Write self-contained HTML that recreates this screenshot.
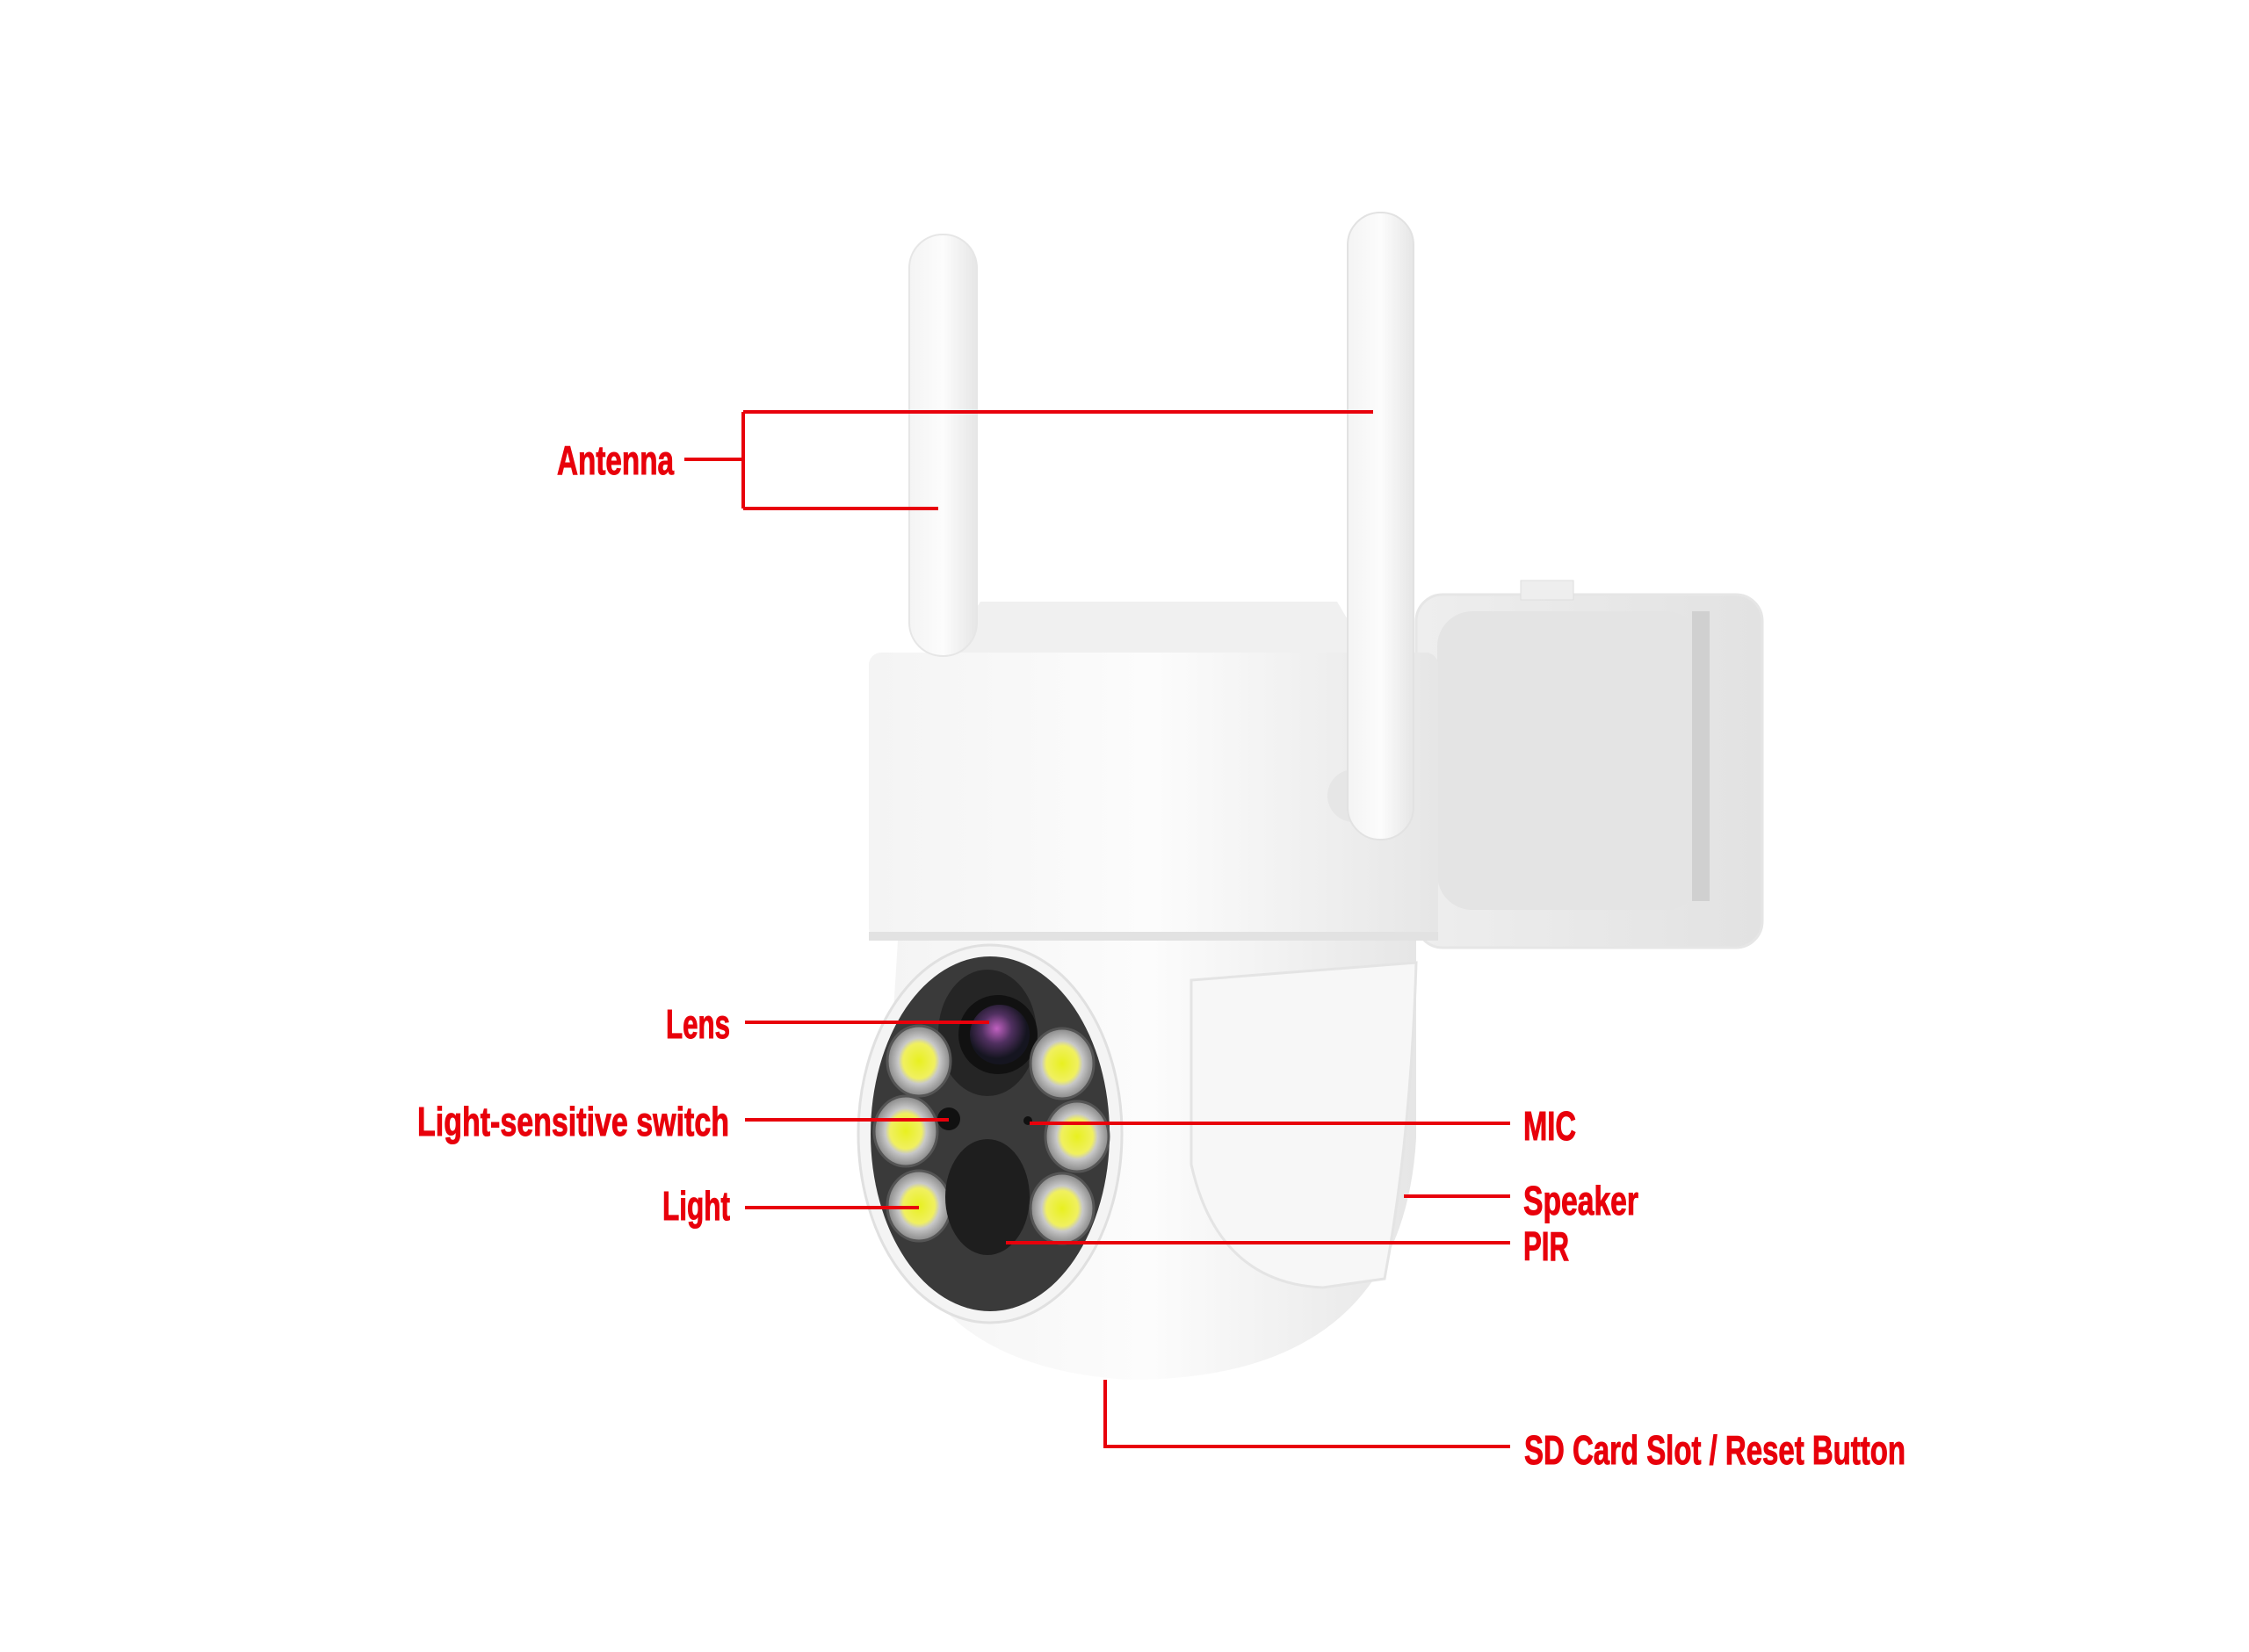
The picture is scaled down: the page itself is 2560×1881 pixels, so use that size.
<!DOCTYPE html>
<html><head><meta charset="utf-8"><style>
html,body{margin:0;padding:0;background:#fff;width:2560px;height:1881px;overflow:hidden}
svg{display:block}
.t{font-family:"Liberation Sans Narrow","Liberation Sans",sans-serif;font-weight:bold;font-size:46px;fill:#e8000b;stroke:#e8000b;stroke-width:1}
</style></head><body>
<svg width="2560" height="1881" viewBox="0 0 2560 1881" xmlns="http://www.w3.org/2000/svg">
<defs>
<linearGradient id="w" x1="0" x2="1"><stop offset="0" stop-color="#f4f4f4"/><stop offset=".5" stop-color="#fcfcfc"/><stop offset="1" stop-color="#e6e6e6"/></linearGradient>
<linearGradient id="g" x1="0" x2="1"><stop offset="0" stop-color="#eeeeee"/><stop offset="1" stop-color="#e2e2e2"/></linearGradient>
<radialGradient id="led"><stop offset="0" stop-color="#e8f020"/><stop offset=".5" stop-color="#f0f060"/><stop offset=".65" stop-color="#c8c8c8"/><stop offset="1" stop-color="#888"/></radialGradient>
<radialGradient id="lens" cx=".45" cy=".4"><stop offset="0" stop-color="#c060c0"/><stop offset=".5" stop-color="#503060"/><stop offset="1" stop-color="#151520"/></radialGradient>
</defs>
<g transform="translate(-4,-4)">
<!-- wall mount -->
<rect x="1616" y="681" width="394" height="402" rx="30" fill="url(#g)" stroke="#e6e6e6" stroke-width="3"/>
<rect x="1640" y="700" width="300" height="340" rx="40" fill="#e4e4e4"/>
<rect x="1930" y="700" width="20" height="330" fill="#d0d0d0"/>
<rect x="1735" y="665" width="60" height="22" fill="#eee" stroke="#ddd"/>
<!-- lower body -->
<path d="M1026 1075 L1616 1075 L1616 1300 Q1600 1575 1290 1575 Q1030 1560 1010 1330 Z" fill="url(#w)"/>
<path d="M1360 1120 L1360 1330 Q1390 1465 1510 1470 L1580 1460 Q1610 1300 1616 1100 Z" fill="#f7f7f7" stroke="#e4e4e4" stroke-width="3"/>
<!-- face -->
<ellipse cx="1131" cy="1295" rx="150" ry="215" fill="#f4f4f4" stroke="#e0e0e0" stroke-width="3"/>
<ellipse cx="1131" cy="1295" rx="136" ry="202" fill="#3a3a3a"/>
<ellipse cx="1128" cy="1180" rx="56" ry="72" fill="#252525"/>
<circle cx="1140" cy="1182" r="45" fill="#111"/>
<circle cx="1142" cy="1182" r="34" fill="url(#lens)"/>
<g fill="url(#led)" stroke="#555" stroke-width="3">
<ellipse cx="1050" cy="1212" rx="36" ry="40"/><ellipse cx="1213" cy="1215" rx="36" ry="40"/>
<ellipse cx="1035" cy="1292" rx="36" ry="40"/><ellipse cx="1230" cy="1298" rx="36" ry="40"/>
<ellipse cx="1050" cy="1377" rx="36" ry="40"/><ellipse cx="1213" cy="1380" rx="36" ry="40"/>
</g>
<circle cx="1084" cy="1278" r="13" fill="#111"/>
<circle cx="1174" cy="1280" r="5" fill="#111"/>
<ellipse cx="1128" cy="1367" rx="48" ry="66" fill="#1e1e1e"/>
<!-- top housing -->
<path d="M1083 747 L1120 689 L1526 689 L1560 747 Z" fill="#f0f0f0"/>
<rect x="993" y="747" width="648" height="328" rx="14" fill="url(#w)"/>
<rect x="993" y="1065" width="648" height="10" fill="#e2e2e2"/>
<!-- antennas -->
<rect x="1039" y="271" width="77" height="480" rx="38" fill="url(#w)" stroke="#e6e6e6" stroke-width="2"/>
<circle cx="1545" cy="910" r="30" fill="#e6e6e6"/>
<rect x="1538" y="246" width="75" height="714" rx="37" fill="url(#w)" stroke="#e2e2e2" stroke-width="2"/>
<!-- connectors -->
<g stroke="#e8000b" stroke-width="4" fill="none">
<path d="M783 527 H850 M850 473 V583 M850 473 H1567 M850 583 H1072"/>
<path d="M852 1168 H1130"/>
<path d="M852 1279 H1084"/>
<path d="M852 1379 H1050"/>
<path d="M1176 1283 H1723"/>
<path d="M1602 1366 H1723"/>
<path d="M1149 1419 H1723"/>
<path d="M1262 1575 V1651 H1723"/>
</g>
<text class="t" x="638" y="544" textLength="133" lengthAdjust="spacingAndGlyphs">Antenna</text>
<text class="t" x="762" y="1186" textLength="73" lengthAdjust="spacingAndGlyphs">Lens</text>
<text class="t" x="479" y="1297" textLength="355" lengthAdjust="spacingAndGlyphs">Light-sensitive switch</text>
<text class="t" x="758" y="1393" textLength="77" lengthAdjust="spacingAndGlyphs">Light</text>
<text class="t" x="1738" y="1302" textLength="60" lengthAdjust="spacingAndGlyphs">MIC</text>
<text class="t" x="1738" y="1387" textLength="131" lengthAdjust="spacingAndGlyphs">Speaker</text>
<text class="t" x="1738" y="1439" textLength="52" lengthAdjust="spacingAndGlyphs">PIR</text>
<text class="t" x="1739" y="1671" textLength="434" lengthAdjust="spacingAndGlyphs">SD Card Slot / Reset Button</text>
</g>
</svg>
</body></html>
